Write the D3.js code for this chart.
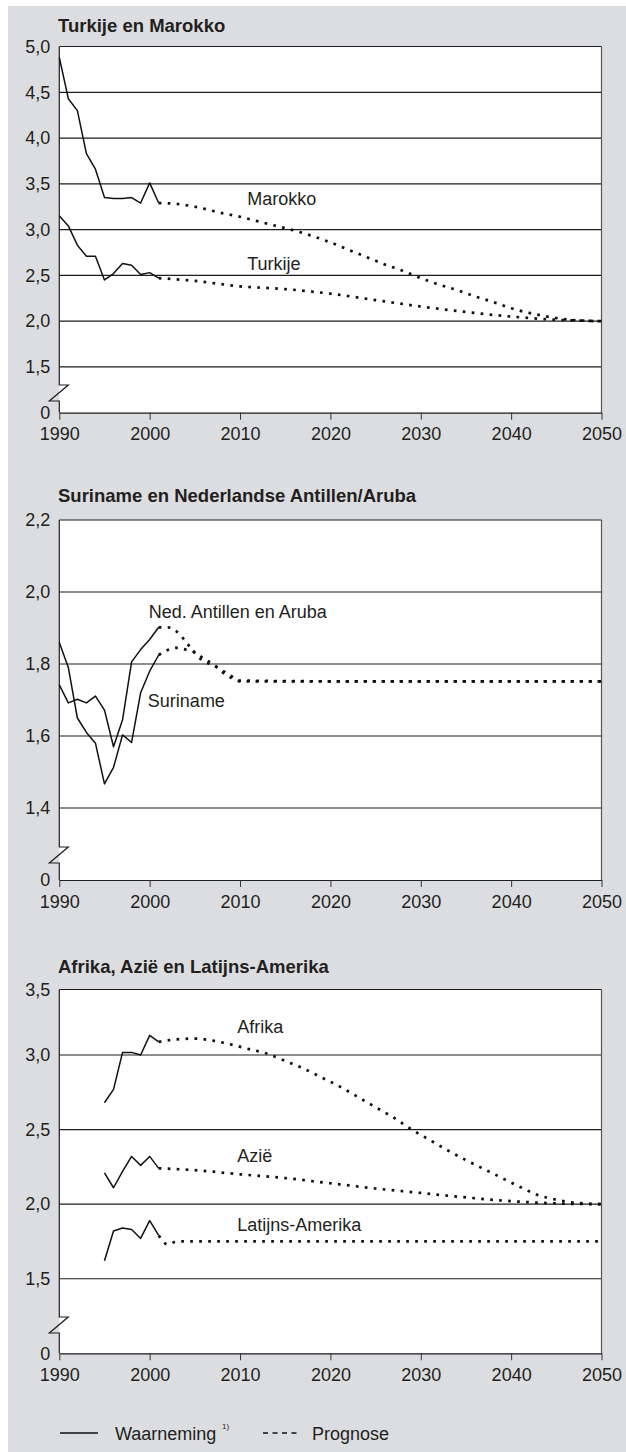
<!DOCTYPE html>
<html>
<head>
<meta charset="utf-8">
<script src="https://cdn.jsdelivr.net/npm/d3@7"></script>
<style>
  body { margin: 0; background: #fff; }
  svg { display: block; }
  text { font-family: "Liberation Sans", Arial, Helvetica, sans-serif; fill: #231f20; }
</style>
</head>
<body>
<svg width="626" height="1452"></svg>
<script>
// x axis ticks
var yearTicks = [1990, 2000, 2010, 2020, 2030, 2040, 2050];

// panel 1 - Turkije en Marokko
var obsYears1 = [1990, 1991, 1992, 1993, 1994, 1995, 1996, 1997, 1998, 1999, 2000, 2001];
var marokkoObs = [4.88, 4.43, 4.30, 3.83, 3.66, 3.35, 3.34, 3.34, 3.35, 3.29, 3.51, 3.29];
var turkijeObs = [3.15, 3.04, 2.83, 2.71, 2.71, 2.45, 2.52, 2.63, 2.61, 2.51, 2.53, 2.47];
var marokkoProgYears = [2001, 2003, 2005, 2008, 2010, 2012, 2014, 2016, 2018, 2020, 2022, 2024, 2026, 2028, 2030, 2032, 2034, 2036, 2038, 2040, 2042, 2044, 2046, 2048, 2050];
var marokkoProg = [3.29, 3.28, 3.25, 3.18, 3.14, 3.09, 3.04, 2.99, 2.93, 2.86, 2.78, 2.70, 2.62, 2.55, 2.47, 2.40, 2.34, 2.27, 2.21, 2.14, 2.09, 2.05, 2.02, 2.005, 2.0];
var turkijeProgYears = [2001, 2005, 2010, 2015, 2020, 2025, 2030, 2035, 2040, 2045, 2050];
var turkijeProg = [2.47, 2.44, 2.38, 2.35, 2.30, 2.23, 2.16, 2.10, 2.05, 2.015, 2.0];
var yTicks1 = [1.0, 1.5, 2.0, 2.5, 3.0, 3.5, 4.0, 4.5, 5.0];

// panel 2 - Suriname en Nederlandse Antillen/Aruba
var obsYears2 = [1990, 1991, 1992, 1993, 1994, 1995, 1996, 1997, 1998, 1999, 2000, 2001];
var surinameObs = [1.86, 1.79, 1.65, 1.61, 1.58, 1.467, 1.513, 1.603, 1.582, 1.72, 1.78, 1.825];
var antillenObs = [1.742, 1.692, 1.702, 1.692, 1.711, 1.672, 1.57, 1.645, 1.806, 1.84, 1.868, 1.902];
var progYears2 = [2001, 2002, 2003, 2004, 2005, 2006, 2007, 2008, 2009, 2010, 2020, 2030, 2040, 2050];
var surinameProg = [1.825, 1.839, 1.845, 1.84, 1.833, 1.815, 1.80, 1.778, 1.762, 1.752, 1.752, 1.752, 1.752, 1.752];
var antillenProg = [1.902, 1.902, 1.89, 1.862, 1.83, 1.807, 1.797, 1.783, 1.767, 1.754, 1.752, 1.752, 1.752, 1.752];
var yTicks2 = [1.2, 1.4, 1.6, 1.8, 2.0, 2.2];

// panel 3 - Afrika, Azië en Latijns-Amerika
var obsYears3 = [1995, 1996, 1997, 1998, 1999, 2000, 2001];
var afrikaObs = [2.68, 2.77, 3.02, 3.02, 3.00, 3.15, 3.10];
var azieObs = [2.21, 2.11, 2.22, 2.32, 2.26, 2.32, 2.24];
var latamObs = [1.62, 1.82, 1.84, 1.83, 1.77, 1.89, 1.79];
var afrikaProgYears = [2001, 2003, 2005, 2007, 2009, 2011, 2013, 2015, 2017, 2019, 2021, 2023, 2025, 2027, 2029, 2031, 2033, 2035, 2037, 2039, 2041, 2043, 2045, 2047, 2050];
var afrikaProg = [3.10, 3.12, 3.125, 3.11, 3.08, 3.045, 3.01, 2.96, 2.91, 2.85, 2.79, 2.72, 2.65, 2.58, 2.50, 2.43, 2.36, 2.295, 2.235, 2.175, 2.115, 2.06, 2.03, 2.01, 2.0];
var azieProgYears = [2001, 2005, 2010, 2015, 2020, 2025, 2030, 2035, 2040, 2045, 2050];
var azieProg = [2.24, 2.228, 2.20, 2.175, 2.14, 2.105, 2.075, 2.045, 2.02, 2.005, 2.0];
var latamProgYears = [2001, 2002, 2003, 2050];
var latamProg = [1.79, 1.73, 1.75, 1.75];
var yTicks3 = [1.0, 1.5, 2.0, 2.5, 3.0, 3.5];

var svg = d3.select("svg");
var fmt = function(d) { return d3.format(".1f")(d).replace(".", ","); };

// background
svg.append("rect").attr("x", 8).attr("y", 6).attr("width", 618).attr("height", 1446).attr("fill", "#dcdde0");

var x = d3.scaleLinear().domain([1990, 2050]).range([59.3, 601.5]);

var panels = [
  {
    title: "Turkije en Marokko", titleY: 32,
    yDomain: [1.0, 5.0], yRange: [412.7, 46.5], yTicks: yTicks1, breakTop: 385,
    obs: [[obsYears1, marokkoObs], [obsYears1, turkijeObs]],
    prog: [[marokkoProgYears, marokkoProg], [turkijeProgYears, turkijeProg]],
    labels: [["Marokko", 2010.8, 3.27], ["Turkije", 2010.8, 2.56]]
  },
  {
    title: "Suriname en Nederlandse Antillen/Aruba", titleY: 501.5,
    yDomain: [1.2, 2.2], yRange: [880, 520], yTicks: yTicks2, breakTop: 847,
    obs: [[obsYears2, surinameObs], [obsYears2, antillenObs]],
    prog: [[progYears2, surinameProg], [progYears2, antillenProg]],
    labels: [["Ned. Antillen en Aruba", 1999.9, 1.927], ["Suriname", 1999.8, 1.68]]
  },
  {
    title: "Afrika, Azië en Latijns-Amerika", titleY: 972.5,
    yDomain: [1.0, 3.0, 3.5], yRange: [1353.3, 1055, 989.5], yTicks: yTicks3, breakTop: 1317,
    obs: [[obsYears3, afrikaObs], [obsYears3, azieObs], [obsYears3, latamObs]],
    prog: [[afrikaProgYears, afrikaProg], [azieProgYears, azieProg], [latamProgYears, latamProg]],
    labels: [["Afrika", 2009.7, 3.17], ["Azië", 2009.7, 2.28], ["Latijns-Amerika", 2009.7, 1.823]]
  }
];

panels.forEach(drawPanel);

function drawPanel(p) {
  var y = d3.scaleLinear().domain(p.yDomain).range(p.yRange);
  var bottom = y(p.yDomain[0]);
  var top = y(p.yDomain[p.yDomain.length - 1]);
  var x0 = x(1990), x1 = x(2050);
  var g = svg.append("g");

  g.append("rect")
    .attr("x", x0).attr("y", top)
    .attr("width", x1 - x0).attr("height", bottom - top)
    .attr("fill", "#fff");

  // gridlines
  g.selectAll(".grid")
    .data(p.yTicks.slice(1))
    .enter()
    .append("line")
    .attr("x1", x0).attr("x2", x1)
    .attr("y1", function(d) { return y(d); })
    .attr("y2", function(d) { return y(d); })
    .attr("stroke", "#1e1e1e")
    .attr("stroke-width", 1.2);

  // right border
  g.append("line")
    .attr("x1", x1).attr("x2", x1).attr("y1", top).attr("y2", bottom)
    .attr("stroke", "#555").attr("stroke-width", 1.2);

  g.append("text")
    .attr("x", 58).attr("y", p.titleY)
    .attr("font-size", 18.5).attr("font-weight", "bold")
    .text(p.title);

  // y labels
  var yAxis = d3.axisLeft(y)
    .tickValues(p.yTicks)
    .tickSize(0)
    .tickPadding(9)
    .tickFormat(function(d) { return d === p.yDomain[0] ? "0" : fmt(d); });
  g.append("g")
    .attr("transform", "translate(" + x0 + ",0)")
    .call(yAxis)
    .call(function(a) { a.select(".domain").remove(); })
    .selectAll("text").attr("font-size", 18);

  // left axis with break
  var bt = p.breakTop, bb = p.breakTop + 16;
  g.append("path")
    .attr("d", "M" + x0 + "," + top + "V" + bt + "H" + (x0 + 9) + "L" + (x0 - 10) + "," + bb + "H" + x0 + "V" + bottom)
    .attr("fill", "none").attr("stroke", "#1e1e1e").attr("stroke-width", 1.2);

  // x axis
  var xAxis = d3.axisBottom(x)
    .tickValues(yearTicks)
    .tickSize(7)
    .tickSizeOuter(0)
    .tickPadding(8)
    .tickFormat(d3.format("d"));
  var xa = g.append("g")
    .attr("transform", "translate(0," + bottom + ")")
    .call(xAxis);
  xa.select(".domain").attr("stroke", "#1e1e1e").attr("stroke-width", 1.2);
  xa.selectAll(".tick line").attr("stroke", "#333").attr("stroke-width", 1);
  xa.selectAll("text").attr("font-size", 18);

  var line = d3.line()
    .x(function(d) { return x(d[0]); })
    .y(function(d) { return y(d[1]); });
  var curve = d3.line()
    .curve(d3.curveMonotoneX)
    .x(function(d) { return x(d[0]); })
    .y(function(d) { return y(d[1]); });

  p.prog.forEach(function(s) {
    g.append("path")
      .attr("d", curve(d3.zip(s[0], s[1])))
      .attr("fill", "none")
      .attr("stroke", "#111")
      .attr("stroke-width", 2.7)
      .attr("stroke-dasharray", "2.7 6.3");
  });

  p.obs.forEach(function(s) {
    g.append("path")
      .attr("d", line(d3.zip(s[0], s[1])))
      .attr("fill", "none")
      .attr("stroke", "#111")
      .attr("stroke-width", 1.5)
      .attr("stroke-linejoin", "round");
  });

  p.labels.forEach(function(l) {
    g.append("text")
      .attr("x", x(l[1])).attr("y", y(l[2]))
      .attr("font-size", 18)
      .text(l[0]);
  });
}

// legend
var lg = svg.append("g");
lg.append("line").attr("x1", 60).attr("x2", 98).attr("y1", 1433).attr("y2", 1433)
  .attr("stroke", "#111").attr("stroke-width", 1.4);
lg.append("text").attr("x", 115).attr("y", 1440).attr("font-size", 18).text("Waarneming");
lg.append("text").attr("x", 222).attr("y", 1429).attr("font-size", 8).text("1)");
lg.append("line").attr("x1", 263).attr("x2", 297).attr("y1", 1433).attr("y2", 1433)
  .attr("stroke", "#111").attr("stroke-width", 1.3).attr("stroke-dasharray", "5 4.5");
lg.append("text").attr("x", 312).attr("y", 1440).attr("font-size", 18).text("Prognose");
</script>
</body>
</html>
